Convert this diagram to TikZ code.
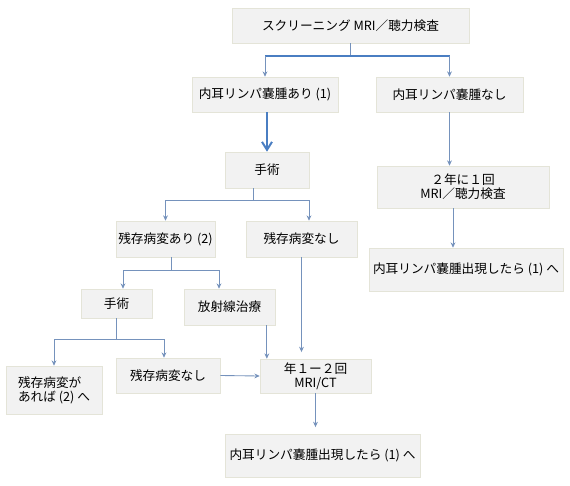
\documentclass[tikz,border=0pt]{standalone}
\usepackage{fontspec}
\setmainfont{Noto Sans CJK JP}
\usetikzlibrary{arrows.meta,calc}
\definecolor{boxFill}{HTML}{F2F2F2}
\definecolor{boxLine}{HTML}{E4E4D8}
\definecolor{lnBlue}{HTML}{4A7EC2}
\definecolor{lnGrey}{HTML}{7592BC}

\begin{document}
\begin{tikzpicture}[x=0.75pt,y=-0.75pt,font=\fontsize{9.5}{10.5}\selectfont,
  box/.style={draw=boxLine,fill=boxFill,inner sep=0pt,align=center},
  ln/.style={lnGrey,line width=0.65pt},
  bar/.style={lnBlue,line width=1.5pt},
  arr/.style={-{Stealth[length=4pt,width=3.6pt]},lnGrey,line width=0.65pt},
  bigarr/.style={-{Straight Barb[length=6pt,width=7.5pt]},lnBlue,line width=1.5pt}]
  \useasboundingbox (0,0) rectangle (570,485);
  \node[box,minimum width=177.75pt,minimum height=26.25pt] (scr) at (350.5,25.5) {スクリーニング MRI／聴力検査};
  \node[box,minimum width=109.5pt,minimum height=26.25pt] (ari) at (265,94.5) {内耳リンパ嚢腫あり (1)};
  \node[box,minimum width=110.25pt,minimum height=26.25pt] (nasi) at (449.5,94.5) {内耳リンパ嚢腫なし};
  \node[box,minimum width=63pt,minimum height=27pt] (op1) at (267,170) {手術};
  \node[box,minimum width=129pt,minimum height=31.5pt] (bi) at (463,187) {２年に１回\\MRI／聴力検査};
  \node[box,minimum width=145.5pt,minimum height=32.25pt] (rt1) at (466,269.5) {内耳リンパ嚢腫出現したら (1) へ};
  \node[box,minimum width=74.25pt,minimum height=27pt] (res) at (165.5,239) {残存病変あり (2)};
  \node[box,minimum width=83.25pt,minimum height=27pt] (nores) at (301.5,239) {残存病変なし};
  \node[box,minimum width=53.25pt,minimum height=21.75pt] (op2) at (116.5,303.5) {手術};
  \node[box,minimum width=68.25pt,minimum height=27pt] (rad) at (229.5,307) {放射線治療};
  \node[box,minimum width=72pt,minimum height=36pt,align=left] (again) at (54,390) {残存病変が\\あれば (2) へ};
  \node[box,minimum width=78pt,minimum height=26.25pt] (nores2) at (168,375.5) {残存病変なし};
  \node[box,minimum width=83.25pt,minimum height=25.5pt] (yr) at (315.5,376) {年１ー２回\\MRI/CT};
  \node[box,minimum width=146.25pt,minimum height=32.25pt] (rt2) at (322.5,455.5) {内耳リンパ嚢腫出現したら (1) へ};

  \coordinate (j1) at (350,56);
  \draw[ln] (scr.south -| j1) -- (j1);
  \draw[bar] (j1 -| ari.north) -- (j1 -| nasi.north);
  \draw[arr] (j1 -| ari.north) -- (ari.north);
  \draw[arr] (j1 -| nasi.north) -- (nasi.north);
  \draw[bigarr] (op1.north |- ari.south) -- (op1.north);
  \draw[arr] (nasi.south) -- (nasi.south |- bi.north);
  \draw[arr] ([xshift=-7.5pt]bi.south) -- ([xshift=-7.5pt]bi.south |- rt1.north);

  \coordinate (j2) at (253,200);
  \coordinate (j2r) at (309,200);
  \draw[ln] (op1.south -| j2) -- (j2);
  \draw[arr] (j2) -| (res.north);
  \draw[arr] (j2) -| (j2r |- nores.north);

  \coordinate (j3) at (171,270);
  \coordinate (j3l) at (123,270);
  \coordinate (j3r) at (219,270);
  \draw[ln] (res.south -| j3) -- (j3);
  \draw[arr] (j3) -| (j3l |- op2.north);
  \draw[arr] (j3) -| (j3r |- rad.north);

  \coordinate (j4) at (116.5,339);
  \coordinate (j4r) at (164,339);
  \draw[ln] (op2.south) -- (j4);
  \draw[arr] (j4) -| (again.north);
  \draw[arr] (j4) -| (j4r |- nores2.north);

  \draw[arr] ([xshift=28pt]rad.south) -- ([xshift=28pt]rad.south |- yr.north);
  \draw[arr,shorten >=5pt] (nores.south) -- (nores.south |- yr.north);
  \draw[arr] (nores2.east) -- (yr.west);
  \draw[arr,shorten >=5pt] (yr.south) -- (yr.south |- rt2.north);
\end{tikzpicture}
\end{document}
